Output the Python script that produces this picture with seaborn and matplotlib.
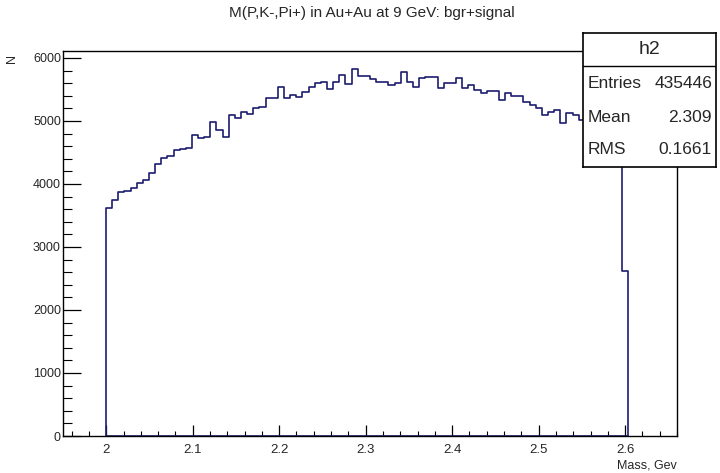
import numpy as np
import pandas as pd
import matplotlib
matplotlib.use("Agg")
import matplotlib.pyplot as plt
import seaborn as sns
from matplotlib import font_manager
from matplotlib.ticker import MultipleLocator

# ---- data ----
x_min, x_max, n_bins = 1.95, 2.66, 100
first_bin = 7
counts = [
    3614, 3746, 3868, 3894, 3931, 4011, 4063, 4169, 4320, 4418,
    4450, 4540, 4556, 4576, 4778, 4725, 4751, 4989, 4857, 4751,
    5095, 5042, 5148, 5106, 5201, 5227, 5360, 5360, 5545, 5360,
    5413, 5386, 5466, 5545, 5598, 5624, 5503, 5624, 5730, 5587,
    5820, 5714, 5714, 5662, 5624, 5624, 5571, 5598, 5775, 5624,
    5535, 5685, 5693, 5693, 5519, 5608, 5608, 5677, 5519, 5571,
    5492, 5439, 5476, 5476, 5333, 5450, 5390, 5390, 5307, 5254,
    5201, 5095, 5148, 5175, 4963, 5122, 5095, 5016, 5000, 4980,
    4950, 4930, 4900, 4880, 2620,
]
title = "M(P,K-,Pi+) in Au+Au at 9 GeV: bgr+signal"
stats_name = "h2"
stats_labels = ["Entries", "Mean", "RMS"]
stats_values = ["435446", "2.309", "0.1661"]
x_label = "Mass, Gev"
y_label = "N"
x_ticks = [2.0, 2.1, 2.2, 2.3, 2.4, 2.5, 2.6]
x_tick_labels = ["2", "2.1", "2.2", "2.3", "2.4", "2.5", "2.6"]

edges_all = np.linspace(x_min, x_max, n_bins + 1)
edges = edges_all[first_bin:first_bin + len(counts) + 1]
centers = 0.5 * (edges[:-1] + edges[1:])
df = pd.DataFrame({"mass": centers, "n": counts})

sns.set_theme(style="white")
names = {f.name for f in font_manager.fontManager.ttflist}
fam = "Liberation Sans Narrow" if "Liberation Sans Narrow" in names else "Liberation Sans"
plt.rcParams["font.family"] = [fam, "DejaVu Sans"]

PX = 0.72  # points per pixel at dpi 100
fig = plt.figure(figsize=(7.2, 4.73), dpi=100)
ax = fig.add_axes([63 / 720, 1 - 436 / 473, (677 - 63) / 720, (436 - 51) / 473])

line_color = "#1c1c6e"
sns.histplot(data=df, x="mass", weights="n", bins=len(counts),
             binrange=(float(edges[0]), float(edges[-1])), element="step",
             fill=True, color=line_color, facecolor="none", edgecolor=line_color,
             linewidth=1.2, ax=ax)

ax.set_xlim(x_min, x_max)
ax.set_ylim(0, 6111)
ax.xaxis.set_minor_locator(MultipleLocator(0.02))
ax.yaxis.set_major_locator(MultipleLocator(1000))
ax.yaxis.set_minor_locator(MultipleLocator(200))
ax.set_xticks(x_ticks)
ax.set_xticklabels(x_tick_labels)
ax.tick_params(axis="x", which="major", direction="in", length=11 * PX, width=0.9,
               labelsize=9.5, pad=6, color="black", bottom=True, top=False)
ax.tick_params(axis="x", which="minor", direction="in", length=5.5 * PX, width=0.8,
               bottom=True, top=False, color="black")
ax.tick_params(axis="y", which="major", direction="in", length=18 * PX, width=0.9,
               labelsize=9, pad=1.5, color="black", left=True, right=False)
ax.tick_params(axis="y", which="minor", direction="in", length=9 * PX, width=0.8,
               left=True, right=False, color="black")
for s in ax.spines.values():
    s.set_color("black")
    s.set_linewidth(1.0)
ax.set_xlabel("")
ax.set_ylabel("")

fig.text(372 / 720, 1 - 13 / 473, title, ha="center", va="center", fontsize=11)
fig.text(12 / 720, 1 - 58 / 473, y_label, ha="center", va="center", rotation=90, fontsize=9)
fig.text(677 / 720, 1 - 465 / 473, x_label, ha="right", va="center", fontsize=9)

# stats box
bx0, bx1, by0, by1 = 583, 716, 33, 167
sax = fig.add_axes([bx0 / 720, 1 - by1 / 473, (bx1 - bx0) / 720, (by1 - by0) / 473])
sax.set_xlim(0, 1)
sax.set_ylim(0, 1)
sax.set_xticks([])
sax.set_yticks([])
sax.set_facecolor("white")
for s in sax.spines.values():
    s.set_color("black")
    s.set_linewidth(1.2)
hsplit = 1 - (66 - by0) / (by1 - by0)
sax.axhline(hsplit, color="black", linewidth=1.0)
sax.text(0.5, (1 + hsplit) / 2, stats_name, ha="center", va="center", fontsize=14)
row_ys = [1 - (84 - by0) / (by1 - by0), 1 - (117 - by0) / (by1 - by0), 1 - (149 - by0) / (by1 - by0)]
for lab, val, yy in zip(stats_labels, stats_values, row_ys):
    sax.text(0.035, yy, lab, ha="left", va="center", fontsize=12.5)
    sax.text(0.97, yy, val, ha="right", va="center", fontsize=12.5)

fig.savefig("out.png", dpi=100)
